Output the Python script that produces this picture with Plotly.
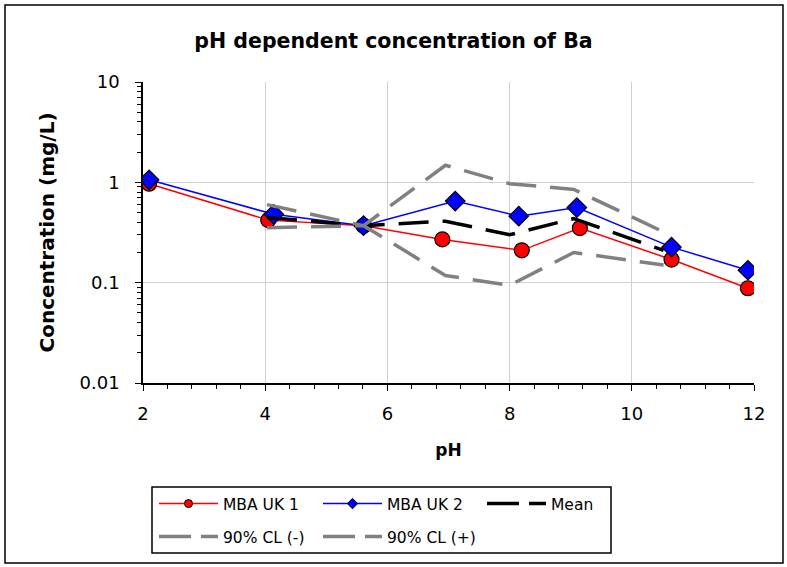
import plotly.graph_objects as go

# Data
uk1_ph = [2.10, 4.05, 5.61, 6.90, 8.20, 9.15, 10.65, 11.90]
uk1_conc = [0.97, 0.42, 0.37, 0.27, 0.21, 0.35, 0.17, 0.088]
uk2_ph = [2.10, 4.14, 5.61, 7.11, 8.15, 9.10, 10.65, 11.90]
uk2_conc = [1.06, 0.48, 0.37, 0.65, 0.46, 0.56, 0.226, 0.133]
mean_ph = [4.03, 5.61, 6.95, 8.00, 9.05, 10.52]
mean_conc = [0.445, 0.37, 0.41, 0.30, 0.435, 0.21]
cl_minus = [0.353, 0.37, 0.118, 0.094, 0.20, 0.15]
cl_plus = [0.60, 0.37, 1.48, 0.97, 0.85, 0.32]

y_tickvals = [0.01, 0.1, 1, 10]
y_ticktext = ["0.01", "0.1", "1", "10"]
x_tickvals = [2, 4, 6, 8, 10, 12]

FONT = "DejaVu Sans"
W, H = 787, 567
L, R, T, B = 143, 33, 82, 184
pw, ph_ = W - L - R, H - T - B
DASH = "30px,14px"

series = [
    dict(name="MBA UK 1", x=uk1_ph, y=uk1_conc, color="#ff0000", width=1.5, symbol="circle", dash="solid", legend="legend"),
    dict(name="MBA UK 2", x=uk2_ph, y=uk2_conc, color="#0000ff", width=1.5, symbol="diamond", dash="solid", legend="legend"),
    dict(name="Mean", x=mean_ph, y=mean_conc, color="black", width=3.5, symbol=None, dash=DASH, legend="legend"),
    dict(name="90% CL (-)", x=mean_ph, y=cl_minus, color="#808080", width=3.5, symbol=None, dash=DASH, legend="legend2"),
    dict(name="90% CL (+)", x=mean_ph, y=cl_plus, color="#808080", width=3.5, symbol=None, dash=DASH, legend="legend2"),
]

fig = go.Figure()
for s in series:
    mode = "lines+markers" if s["symbol"] else "lines"
    marker = dict(symbol=s["symbol"], size=15, color=s["color"],
                  line=dict(color="black", width=1.2)) if s["symbol"] else None
    fig.add_trace(go.Scatter(x=s["x"], y=s["y"], name=s["name"], mode=mode,
                             line=dict(color=s["color"], width=s["width"], dash=s["dash"]),
                             marker=marker, showlegend=False))
# legend-only entries (smaller markers, as in the reference legend)
for s in series:
    mode = "lines+markers" if s["symbol"] else "lines"
    marker = dict(symbol=s["symbol"], size=8, color=s["color"],
                  line=dict(color="black", width=1)) if s["symbol"] else None
    legend_dash = "solid" if s["dash"] == "solid" else "32px,10px"
    fig.add_trace(go.Scatter(x=[None], y=[None], name=s["name"], mode=mode,
                             line=dict(color=s["color"], width=s["width"], dash=legend_dash),
                             marker=marker, showlegend=True, hoverinfo="skip",
                             legend=s["legend"]))

legend_common = dict(orientation="h", xref="container", yref="container",
                     x=154 / W, xanchor="left", yanchor="middle",
                     borderwidth=0, bgcolor="rgba(0,0,0,0)",
                     font=dict(size=15.5, family=FONT), itemwidth=59,
                     entrywidth=90, entrywidthmode="pixels", tracegroupgap=0)

fig.update_layout(
    width=W, height=H,
    margin=dict(l=L, r=R, t=T, b=B, autoexpand=False),
    paper_bgcolor="white", plot_bgcolor="white",
    font=dict(family=FONT, size=18, color="black"),
    title=dict(text="<b>pH dependent concentration of Ba</b>", x=0.5, xref="container",
               y=1 - 41 / H, yanchor="middle", font=dict(size=20.5, family=FONT)),
    xaxis=dict(range=[2, 12], tickvals=x_tickvals, showgrid=True, gridcolor="#d0d0d0",
               gridwidth=1, showline=True, linecolor="black", linewidth=1.5,
               ticks="outside", ticklen=6, tickcolor="black", ticklabelstandoff=8,
               minor=dict(ticks="outside", ticklen=4, dtick=0.4, tickcolor="black", showgrid=False),
               title=dict(text="<b>pH</b>", font=dict(size=17), standoff=21),
               zeroline=False),
    yaxis=dict(type="log", range=[-2, 1], tickvals=y_tickvals, ticktext=y_ticktext,
               showgrid=True, gridcolor="#d0d0d0", gridwidth=1, showline=True,
               linecolor="black", linewidth=1.5, ticks="outside", ticklen=6, tickcolor="black",
               ticklabelstandoff=12,
               minor=dict(ticks="outside", ticklen=4, dtick="D1", tickcolor="black", showgrid=False),
               title=dict(text="<b>Concentration (mg/L)</b>", font=dict(size=20), standoff=20),
               zeroline=False),
    legend=dict(legend_common, y=1 - 504 / H),
    legend2=dict(legend_common, y=1 - 537 / H),
    showlegend=True,
    shapes=[
        dict(type="rect", xref="paper", yref="paper",
             x0=(5 - L) / pw, x1=(783 - L) / pw,
             y0=(H - B - 563) / ph_, y1=(H - B - 5) / ph_,
             line=dict(color="black", width=1.5), layer="below"),
        dict(type="rect", xref="paper", yref="paper",
             x0=(152 - L) / pw, x1=(611 - L) / pw,
             y0=(H - B - 553) / ph_, y1=(H - B - 487) / ph_,
             line=dict(color="black", width=1.5), layer="below"),
    ],
)

fig.write_html("out.html")
